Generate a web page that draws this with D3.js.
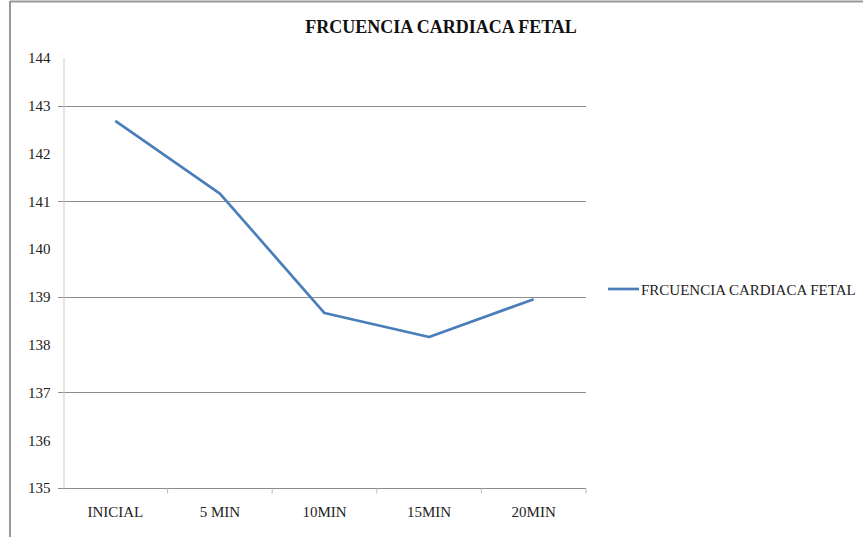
<!DOCTYPE html>
<html><head><meta charset="utf-8">
<script src="https://cdn.jsdelivr.net/npm/d3@7"></script>
<style>body{margin:0;background:#fff}svg{display:block}</style>
</head><body>
<svg id="c" width="863" height="537"></svg>
<script>
const categories = ["INICIAL", "5 MIN", "10MIN", "15MIN", "20MIN"];
const values = [142.68, 141.16, 138.66, 138.16, 138.95];
const yTicks = [135, 136, 137, 138, 139, 140, 141, 142, 143, 144];
const gridTicks = [135, 137, 139, 141, 143];
const seriesName = "FRCUENCIA CARDIACA FETAL";
const title = "FRCUENCIA CARDIACA FETAL";

const svg = d3.select("#c");
const font = "'Liberation Serif','Times New Roman',serif";
const m = {left: 63, right: 586, top: 57.8, bottom: 488};

// frame
svg.append("line").attr("x1", 10).attr("x2", 863).attr("y1", 1.5).attr("y2", 1.5).attr("stroke", "#999").attr("stroke-width", 2);
svg.append("line").attr("x1", 10).attr("x2", 10).attr("y1", 1).attr("y2", 537).attr("stroke", "#999").attr("stroke-width", 2);

const x = d3.scaleBand().domain(categories).range([m.left, m.right]);
const y = d3.scaleLinear().domain([135, 144]).range([m.bottom, m.top]);

// grid
svg.append("g").selectAll("line").data(gridTicks).join("line")
  .attr("x1", m.left - 5).attr("x2", m.right)
  .attr("y1", d => Math.round(y(d)) + 0.5).attr("y2", d => Math.round(y(d)) + 0.5)
  .attr("stroke", "#8c8c8c").attr("stroke-width", 1);

// y axis
const ya = svg.append("g").attr("transform", `translate(${m.left + 0.5},0)`)
  .call(d3.axisLeft(y).tickValues(yTicks).tickSize(0).tickPadding(13).tickFormat(d3.format("d")));
ya.select(".domain").attr("stroke", "#cccccc");
ya.selectAll("text").attr("font-family", font).attr("font-size", 15).attr("fill", "#222");

// x axis
const xa = svg.append("g").attr("transform", `translate(0,${Math.round(m.bottom) + 0.5})`)
  .call(d3.axisBottom(x).tickSize(0).tickPadding(18));
xa.select(".domain").remove();
xa.selectAll("text").attr("font-family", font).attr("font-size", 15).attr("fill", "#222");
xa.append("g").selectAll("line").data(categories).join("line")
  .attr("x1", (d, i) => m.left + (i + 1) * x.step()).attr("x2", (d, i) => m.left + (i + 1) * x.step())
  .attr("y1", 0).attr("y2", 5).attr("stroke", "#bbb");

// line
const line = d3.line().x((d, i) => x(categories[i]) + x.bandwidth() / 2).y(d => y(d));
svg.append("path").datum(values).attr("d", line).attr("fill", "none")
  .attr("stroke", "#4a7ebb").attr("stroke-width", 2.7).attr("stroke-linejoin", "round");

// title
svg.append("text").attr("x", 441).attr("y", 33).attr("text-anchor", "middle")
  .attr("font-family", font).attr("font-weight", "bold").attr("font-size", 18).attr("fill", "#111").text(title);

// legend
svg.append("line").attr("x1", 608).attr("x2", 639).attr("y1", 289).attr("y2", 289)
  .attr("stroke", "#4a7ebb").attr("stroke-width", 2.7);
svg.append("text").attr("x", 641).attr("y", 295).attr("font-family", font).attr("font-size", 15)
  .attr("fill", "#222").text(seriesName);
</script>
</body></html>
